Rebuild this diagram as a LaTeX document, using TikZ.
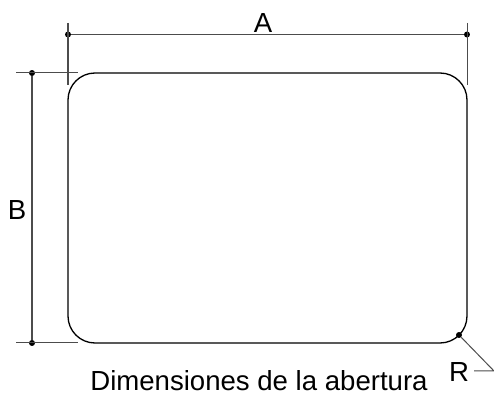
\documentclass[tikz,border=0pt]{standalone}
\usepackage{fontspec}
\setmainfont{Liberation Sans}
\tikzset{
  cota/.style={line width=0.57pt, black!70},
  punto/.style={circle, fill=black, inner sep=0pt, minimum size=3.4pt},
  rotulo/.style={font=\fontsize{15.7}{18}\selectfont, inner sep=0pt}
}
\begin{document}
\begin{tikzpicture}[x=0.02cm, y=-0.02cm]
  \useasboundingbox (0,0) rectangle (494,398);

  % Abertura
  \draw[line width=0.75pt, rounded corners=0.54cm] (68,73) rectangle (467,343);

  % Puntos de cota
  \node[punto] (ai) at (68,34.5) {};
  \node[punto] (ad) at (467,34.5) {};
  \node[punto] (bs) at (32,73) {};
  \node[punto] (bi) at (32,343) {};
  \node[punto] (pr) at (459,335) {};

  % Extremos de las lineas auxiliares
  \coordinate (ai1) at (68,23);
  \coordinate (ai2) at (68,85);
  \coordinate (ad1) at (467,23);
  \coordinate (ad2) at (467,85);
  \coordinate (bs1) at (16,73);
  \coordinate (bs2) at (78,73);
  \coordinate (bi1) at (16,343);
  \coordinate (bi2) at (78,343);
  \coordinate (rq) at (494,371);
  \coordinate (rf) at (474,371);

  % Cotas
  \draw[cota] (ai) -- (ad);
  \draw[cota] (bs) -- (bi);
  \draw[cota] (ai1) -- (ai2);
  \draw[cota] (ad1) -- (ad2);
  \draw[cota] (bs1) -- (bs2);
  \draw[cota] (bi1) -- (bi2);
  \draw[cota] (pr) -- (rq) -- (rf);

  % Etiquetas
  \node[rotulo] (la) at (263,23) {A};
  \node[rotulo] (lb) at (17,210) {B};
  \node[rotulo] (lr) at (459,372) {R};
  \node[rotulo] (titulo) at (259,381) {Dimensiones de la abertura};
\end{tikzpicture}
\end{document}
